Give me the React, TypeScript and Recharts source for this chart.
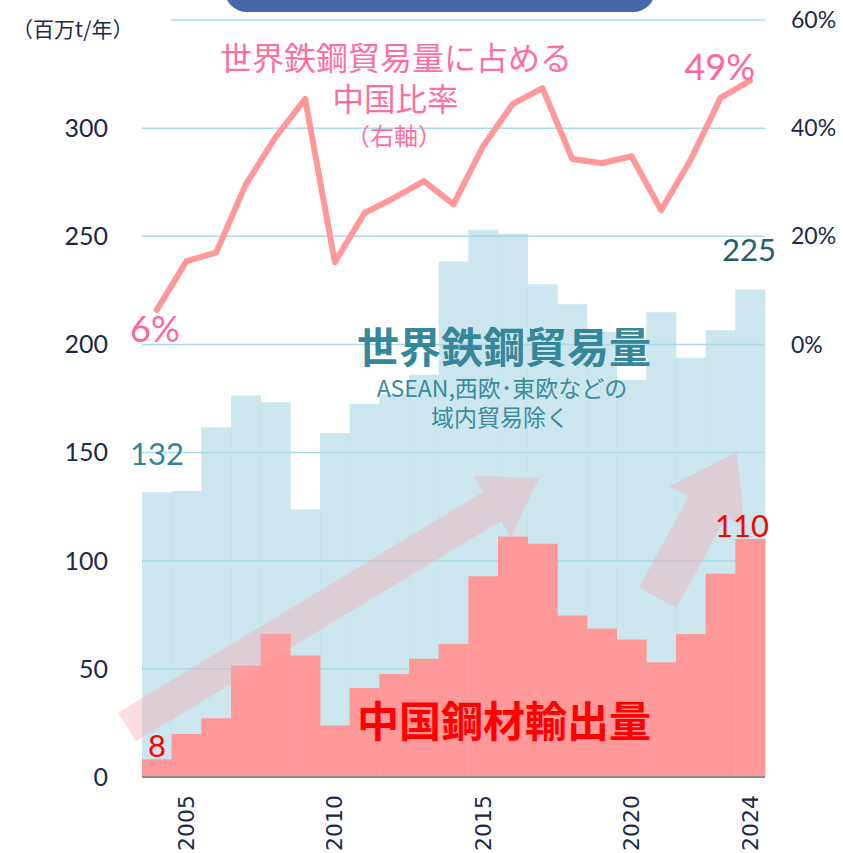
import { Bar, CartesianGrid, ComposedChart, Line, XAxis, YAxis } from "recharts";

// 年
const years = [
  2004, 2005, 2006, 2007, 2008, 2009, 2010, 2011, 2012, 2013, 2014,
  2015, 2016, 2017, 2018, 2019, 2020, 2021, 2022, 2023, 2024,
];
// 世界鉄鋼貿易量（百万t）
const worldTrade = [
  131.6, 132.2, 161.7, 176.4, 173.3, 123.7, 159.1, 172.5, 177, 186, 238.3,
  253, 251.2, 227.8, 218.6, 205.8, 183.5, 214.9, 193.8, 206.6, 225.4,
];
// 中国鋼材輸出量（百万t）
const chinaExport = [
  8.2, 19.9, 27.2, 51.6, 66.2, 56.2, 23.8, 41.2, 47.6, 54.7, 61.5,
  92.8, 111.2, 107.9, 74.7, 68.7, 63.6, 53, 66.1, 94, 110,
];
// 中国比率（%）
const chinaShare = [
  6.4, 15.4, 17.0, 29.6, 38.3, 45.4, 15.2, 24.3, 27.1, 30.2, 25.9,
  36.7, 44.5, 47.4, 34.3, 33.5, 34.8, 24.8, 34.2, 45.6, 48.8,
];
const yearTicks = [2005, 2010, 2015, 2020, 2024];
const leftTicks = [0, 50, 100, 150, 200, 250, 300];
const rightTicks = [0, 20, 40, 60];

const data = years.map((y, i) => ({
  year: y,
  trade: worldTrade[i],
  china: chinaExport[i],
  share: chinaShare[i],
}));

const NAVY = "#1b2a47";
const JP = "'Noto Sans CJK JP', sans-serif";

function YearTick(props: any) {
  const { x, payload } = props;
  if (!yearTicks.includes(payload.value)) return null;
  return (
    <text
      x={x}
      y={795}
      transform={`rotate(-90, ${x}, 795)`}
      textAnchor="end"
      dominantBaseline="central"
      fontSize={22}
      fontFamily="'DejaVu Sans', sans-serif"
      fill={NAVY}
    >
      {payload.value}
    </text>
  );
}

// decorative arrow polygon
function arrowPoints(bx: number, by: number, tx: number, ty: number, sw: number, hl: number, hw: number) {
  const dx = tx - bx;
  const dy = ty - by;
  const L = Math.hypot(dx, dy);
  const ux = dx / L;
  const uy = dy / L;
  const px = -uy;
  const py = ux;
  const hx = tx - ux * hl;
  const hy = ty - uy * hl;
  const pts = [
    [bx + px * sw, by + py * sw],
    [hx + px * sw, hy + py * sw],
    [hx + px * hw, hy + py * hw],
    [tx, ty],
    [hx - px * hw, hy - py * hw],
    [hx - px * sw, hy - py * sw],
    [bx - px * sw, by - py * sw],
  ];
  return pts.map((p) => p.join(",")).join(" ");
}

export default function App() {
  return (
    <div style={{ position: "absolute", left: 0, top: 0, width: 843, height: 853, background: "#fff", fontFamily: "Lato" }}>
      <ComposedChart
        width={843}
        height={853}
        data={data}
        margin={{ top: 20, right: 0, bottom: 0, left: 0 }}
        barCategoryGap={0}
        barGap={0}
      >
        <CartesianGrid
          xAxisId="a"
          yAxisId="l"
          vertical={false}
          horizontalValues={[0, 50, 100, 150, 200, 250, 300, 350]}
          stroke="#aadbeb"
          strokeWidth={1.5}
        />
        <XAxis
          xAxisId="a"
          dataKey="year"
          interval={0}
          tickLine={false}
          axisLine={{ stroke: "#8c8c8c", strokeWidth: 2 }}
          height={76}
          tick={<YearTick />}
        />
        <XAxis xAxisId="b" dataKey="year" hide />
        <YAxis
          yAxisId="l"
          domain={[0, 350]}
          ticks={leftTicks}
          width={142}
          axisLine={false}
          tickLine={false}
          tickSize={0}
          tickMargin={34}
          tick={{ fontSize: 25, fill: NAVY, fontFamily: "Lato" }}
        />
        <YAxis
          yAxisId="r"
          orientation="right"
          domain={[-80, 60]}
          ticks={rightTicks}
          width={78}
          axisLine={false}
          tickLine={false}
          tickSize={0}
          tickMargin={26}
          tickFormatter={(v) => `${v}%`}
          tick={{ fontSize: 23, fill: NAVY, fontFamily: "Lato", textAnchor: "start" }}
        />
        <Bar xAxisId="a" yAxisId="l" dataKey="trade" fill="rgb(170,213,225)" fillOpacity={0.6} isAnimationActive={false} />
        <Bar xAxisId="b" yAxisId="l" dataKey="china" fill="#ff9999" isAnimationActive={false} />
        <Line
          xAxisId="a"
          yAxisId="r"
          dataKey="share"
          type="linear"
          stroke="#ff9999"
          strokeWidth={6}
          strokeLinecap="round"
          strokeLinejoin="round"
          dot={false}
          isAnimationActive={false}
        />
      </ComposedChart>

      <svg
        width={843}
        height={853}
        style={{ position: "absolute", left: 0, top: 0, pointerEvents: "none" }}
      >
        <rect x={225} y={-30} width={430} height={42} rx={22} fill="#4767a8" />
        <rect x={138} y={16} width={33} height={8} fill="#fff" />
        <polygon points={arrowPoints(127, 727, 539, 478, 17, 55, 36)} fill="rgb(247,166,174)" fillOpacity={0.37} />
        <polygon points={arrowPoints(657.8, 597.7, 736.7, 452.3, 21.4, 62, 43)} fill="rgb(247,166,174)" fillOpacity={0.37} />

        <text x={12} y={28} dominantBaseline="central" fontSize={21} fontFamily={JP} fill={NAVY}>
          （百万t/年）
        </text>

        <g fontFamily={JP} fill="#ff6e9e" textAnchor="middle">
          <text x={396} y={56} dominantBaseline="central" fontSize={32}>世界鉄鋼貿易量に占める</text>
          <text x={395.5} y={97} dominantBaseline="central" fontSize={31.5}>中国比率</text>
          <text x={394} y={134} dominantBaseline="central" fontSize={24}>（右軸）</text>
        </g>

        <text x={755} y={80} textAnchor="end" fontSize={36} fontFamily="Lato" fill="#ff6699">49%</text>
        <text x={130} y={342} fontSize={36} fontFamily="Lato" fill="#ff6699">6%</text>
        <text x={130} y={465} fontSize={31} fontFamily="Lato" fill="#2f8598">132</text>
        <text x={776} y={261} textAnchor="end" fontSize={31} fontFamily="Lato" fill="#215e6e">225</text>
        <text x={769} y={537} textAnchor="end" fontSize={31} fontFamily="Lato" fill="#ff0000">110</text>
        <text x={157} y={757} textAnchor="middle" fontSize={31} fontFamily="Lato" fill="#ff0000">8</text>

        <text x={504} y={344} textAnchor="middle" dominantBaseline="central" fontSize={42} fontWeight={700} fontFamily={JP} fill="#35879c">
          世界鉄鋼貿易量
        </text>
        <g fontFamily={JP} fill="#3a8a9e" textAnchor="middle" fontSize={23}>
          <text x={502} y={387} dominantBaseline="central">ASEAN,西欧･東欧などの</text>
          <text x={500} y={416} dominantBaseline="central">域内貿易除く</text>
        </g>
        <text x={504} y={718} textAnchor="middle" dominantBaseline="central" fontSize={42} fontWeight={700} fontFamily={JP} fill="#ff0000">
          中国鋼材輸出量
        </text>
      </svg>
    </div>
  );
}
